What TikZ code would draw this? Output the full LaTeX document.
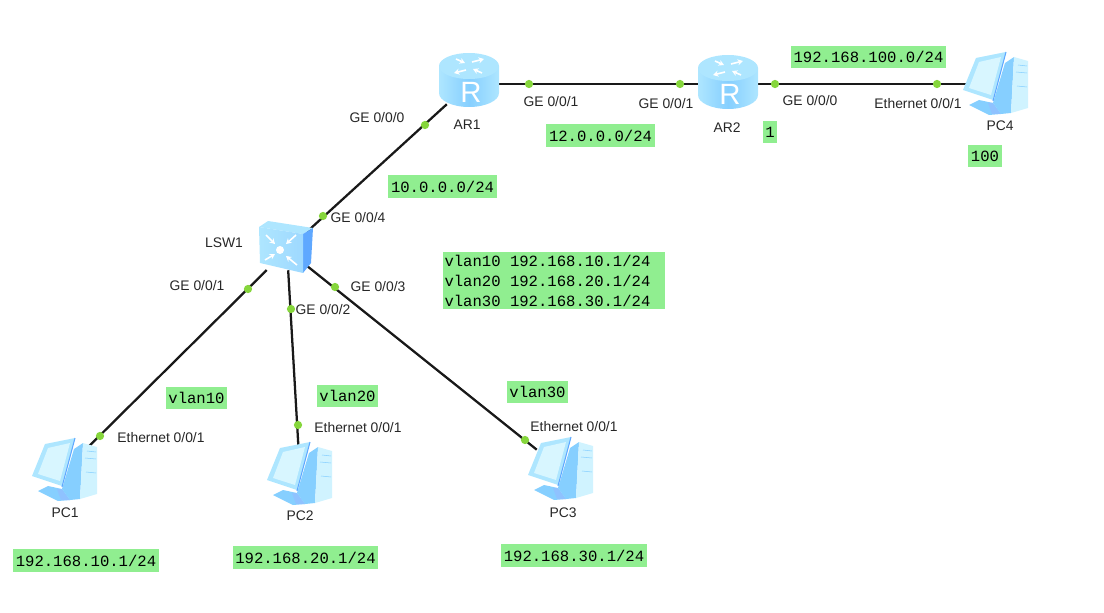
\documentclass[tikz,border=0pt]{standalone}
\usepackage{fontspec}
\setmainfont{Liberation Sans}
\setmonofont{Liberation Mono}
\usetikzlibrary{arrows.meta}
\definecolor{netgreen}{HTML}{90EE90}
\definecolor{portgreen}{HTML}{86D63C}
\definecolor{iconpale}{HTML}{D8F6FF}
\definecolor{iconlight}{HTML}{AEE6FF}
\definecolor{iconmid}{HTML}{86CFFF}
\definecolor{icondeep}{HTML}{5FA8FF}

\begin{document}
\begin{tikzpicture}[
  x=0.75pt, y=-0.75pt,
  font=\fontsize{10.4}{12}\selectfont,
  dev/.style={inner sep=0pt, minimum width=#1},
  link/.style={draw=black!90, line width=1.7pt},
  port/.style={circle, fill=portgreen, inner sep=0pt, minimum size=6.2pt},
  lbl/.style={text=black!85, inner sep=0pt},
  net/.style={fill=netgreen, inner sep=2pt, minimum height=17pt, align=flush left,
    font=\ttfamily\fontsize{11.7}{15}\selectfont},
  glyph/.style={-{Stealth[length=4pt,width=4.5pt]}, white, line width=1.2pt}
]
\newcommand{\routericon}[1]{%
  \begin{scope}[shift={#1}]
    \shade[left color=iconlight, right color=iconlight, middle color=iconmid]
      (-30,-16) -- (-30,11) arc[start angle=180, end angle=0, x radius=30, y radius=14]
      -- (30,-16) -- cycle;
    \fill[iconlight] (0,-16) ellipse[x radius=30, y radius=13];
    \draw[glyph] (-13,-23) -- (-4,-19);
    \draw[glyph] (13,-9) -- (4,-13);
    \draw[glyph] (3,-20) -- (15,-23);
    \draw[glyph] (-3,-12) -- (-15,-9);
    \node[text=white, inner sep=0pt, font=\fontsize{22}{22}\selectfont] at (2,10) {R};
  \end{scope}}
\newcommand{\switchicon}[1]{%
  \begin{scope}[shift={#1}]
    \fill[iconlight] (-28,-23) -- (-19,-29) -- (26,-22) -- (16,-16) -- cycle;
    \fill[icondeep] (16,-16) -- (26,-22) -- (24,13) -- (16,23) -- cycle;
    \shade[left color=iconlight, right color=iconmid!80!white] (-28,-23) -- (16,-16) -- (16,23) -- (-27,13) -- cycle;
    \fill[white] (-7,0) circle[radius=4];
    \draw[glyph] (-21,-15) -- (-12,-6);
    \draw[glyph] (9,-15) -- (-1,-6);
    \draw[glyph] (-22,10) -- (-12,4);
    \draw[glyph] (10,15) -- (-1,6);
  \end{scope}}
\newcommand{\pcicon}[1]{%
  \begin{scope}[shift={#1}]
    \fill[iconmid] (-27,21) -- (-17,16) -- (-3,19) -- (5,30) -- (-7,31) -- cycle;
    \fill[icondeep!70!white] (-8,19) -- (-3,19) -- (5,30) -- (-4,30) -- cycle;
    \fill[iconmid] (9,-21) -- (18,-27) -- (15,29) -- (5,30) -- (-3,19) -- cycle;
    \fill[iconpale!80!iconlight] (18,-27) -- (32,-23) -- (32,24) -- (15,29) -- cycle;
    \draw[iconmid] (22,-19) -- (31,-18) (20,-12) -- (31,-11) (21,2) -- (31,3);
    \fill[iconlight] (-33,6) -- (-20,-26) -- (10,-32) -- (-3,16) -- cycle;
    \fill[iconpale] (-27,4) -- (-17,-22) -- (5,-27) -- (-5,11) -- cycle;
    \draw[icondeep, line width=0.8pt] (10,-32) -- (-3,17);
  \end{scope}}

\useasboundingbox (0,0) rectangle (1104,613);

% devices
\node[dev=40pt, minimum height=30pt] (ar1) at (469,84) {};
\node[dev=40pt, minimum height=30pt] (ar2) at (728,84) {};
\node[dev=30pt, minimum height=30pt] (lsw1) at (287,250) {};
\node[dev=36pt, minimum height=36pt] (pc1) at (65,470) {};
\node[dev=36pt, minimum height=36pt] (pc2) at (300,474) {};
\node[dev=36pt, minimum height=36pt] (pc3) at (561,469) {};
\node[dev=36pt, minimum height=36pt] (pc4) at (996,84) {};

% links
\draw[link] (ar1) -- (lsw1);
\draw[link] (ar1) -- (ar2);
\draw[link] (ar2) -- (pc4);
\draw[link] (lsw1) -- (pc1);
\draw[link] (lsw1) -- (pc2);
\draw[link] (lsw1) -- (pc3);

% icons
\routericon{(469,82)}
\routericon{(728,84)}
\switchicon{(287,250)}
\pcicon{(65,470)}
\pcicon{(300,474)}
\pcicon{(561,469)}
\pcicon{(996,84)}

% device names
\node[lbl] (ar1name) at (467,125) {AR1};
\node[lbl] (ar2name) at (727,128) {AR2};
\node[lbl] (lsw1name) at (224,243) {LSW1};
\node[lbl] (pc1name) at (65,513) {PC1};
\node[lbl] (pc2name) at (300,516) {PC2};
\node[lbl] (pc3name) at (563,513) {PC3};
\node[lbl] (pc4name) at (1000,126) {PC4};

% ports
\node[port] (ar1p0) at (425,125) {};
\node[port] (lsw1p4) at (323,216) {};
\node[port] (ar1p1) at (529,84) {};
\node[port] (ar2p1) at (680,84) {};
\node[port] (ar2p0) at (775,84) {};
\node[port] (pc4p) at (937,84) {};
\node[port] (lsw1p1) at (248,289) {};
\node[port] (lsw1p2) at (291,309) {};
\node[port] (lsw1p3) at (335,287) {};
\node[port] (pc1p) at (100,436) {};
\node[port] (pc2p) at (298,425) {};
\node[port] (pc3p) at (525,440) {};

% port labels
\node[lbl] (ar1t0) at (377,118) {GE 0/0/0};
\node[lbl] (lsw1t4) at (358,218) {GE 0/0/4};
\node[lbl] (ar1t1) at (551,102) {GE 0/0/1};
\node[lbl] (ar2t1) at (666,104) {GE 0/0/1};
\node[lbl] (ar2t0) at (810,101) {GE 0/0/0};
\node[lbl] (pc4t) at (918,104) {Ethernet 0/0/1};
\node[lbl] (lsw1t1) at (197,286) {GE 0/0/1};
\node[lbl] (lsw1t2) at (323,310) {GE 0/0/2};
\node[lbl] (lsw1t3) at (378,287) {GE 0/0/3};
\node[lbl] (pc1t) at (161,438) {Ethernet 0/0/1};
\node[lbl] (pc2t) at (358,428) {Ethernet 0/0/1};
\node[lbl] (pc3t) at (574,427) {Ethernet 0/0/1};

% addresses
\node[net] (net100) at (868.5,57) {192.168.100.0/24};
\node[net] (gw1) at (770,132) {1};
\node[net] (host100) at (985,156) {100};
\node[net] (net12) at (600.5,135.5) {12.0.0.0/24};
\node[net] (net10) at (442.5,186.5) {10.0.0.0/24};
\node[net, text width=163.5pt, inner xsep=1.5pt] (svi) at (553.5,280.5) {vlan10 192.168.10.1/24\\vlan20 192.168.20.1/24\\vlan30 192.168.30.1/24};
\node[net] (vlan10) at (196.5,398) {vlan10};
\node[net] (vlan20) at (347.5,396) {vlan20};
\node[net] (vlan30) at (537.5,392) {vlan30};
\node[net] (pc1ip) at (86,560.5) {192.168.10.1/24};
\node[net] (pc2ip) at (305.5,557.5) {192.168.20.1/24};
\node[net] (pc3ip) at (574,555.5) {192.168.30.1/24};
\end{tikzpicture}
\end{document}
